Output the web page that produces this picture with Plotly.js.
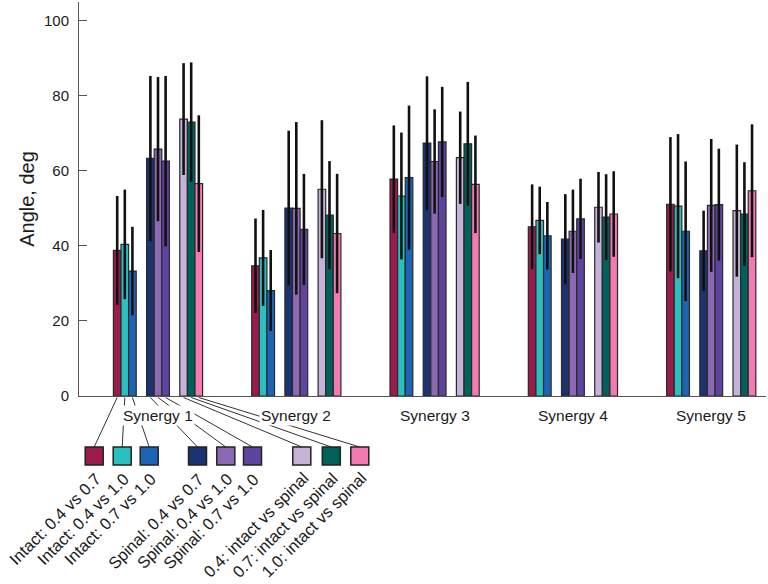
<!DOCTYPE html>
<html>
<head>
<meta charset="utf-8">
<script src="https://cdn.plot.ly/plotly-3.0.1.min.js"></script>
<style>html,body{margin:0;padding:0;background:#fff;}#chart{width:768px;height:584px;}</style>
</head>
<body>
<div id="chart"></div>
<script>
// ---- data ----
const synergies = [1, 2, 3, 4, 5];
const synergyLabels = ["Synergy 1", "Synergy 2", "Synergy 3", "Synergy 4", "Synergy 5"];
const comparisonNames = [
  "Intact: 0.4 vs 0.7", "Intact: 0.4 vs 1.0", "Intact: 0.7 vs 1.0",
  "Spinal: 0.4 vs 0.7", "Spinal: 0.4 vs 1.0", "Spinal: 0.7 vs 1.0",
  "0.4: intact vs spinal", "0.7: intact vs spinal", "1.0: intact vs spinal"
];
const intact04v07 = [38.8, 34.7, 57.8, 45.1, 51.1];
const intact04v10 = [40.4, 36.8, 53.3, 46.8, 50.6];
const intact07v10 = [33.3, 28.1, 58.2, 42.7, 43.9];
const spinal04v07 = [63.3, 50.1, 67.4, 41.8, 38.7];
const spinal04v10 = [65.8, 50.0, 62.5, 43.9, 50.8];
const spinal07v10 = [62.6, 44.4, 67.7, 47.2, 51.0];
const speed04IvS  = [73.8, 55.1, 63.5, 50.3, 49.4];
const speed07IvS  = [73.0, 48.2, 67.2, 47.7, 48.5];
const speed10IvS  = [56.6, 43.3, 56.4, 48.5, 54.7];

const intact04v07Err = [14.5, 12.6, 14.3, 11.3, 17.9];
const intact04v10Err = [14.6, 12.8, 16.9, 9.0, 19.2];
const intact07v10Err = [11.8, 10.8, 19.2, 9.0, 18.6];
const spinal04v07Err = [22.0, 20.6, 17.8, 12.0, 10.7];
const spinal04v10Err = [19.2, 23.0, 13.9, 11.1, 17.7];
const spinal07v10Err = [22.7, 14.8, 14.7, 10.7, 14.9];
const speed04IvSErr  = [14.9, 18.4, 12.3, 9.4, 17.6];
const speed07IvSErr  = [15.9, 14.4, 16.5, 11.4, 13.8];
const speed10IvSErr  = [18.2, 15.9, 13.0, 11.4, 17.7];

const yTickVals = [0, 20, 40, 60, 80, 100];

// ---- styling / layout ----
const series = [intact04v07, intact04v10, intact07v10, spinal04v07, spinal04v10, spinal07v10, speed04IvS, speed07IvS, speed10IvS];
const seriesErr = [intact04v07Err, intact04v10Err, intact07v10Err, spinal04v07Err, spinal04v10Err, spinal07v10Err, speed04IvSErr, speed07IvSErr, speed10IvSErr];
const colors = ["#9B1B4C", "#2BC0C0", "#1E64B4", "#1B3370", "#8E69B3", "#5E44A0", "#C4B2D8", "#00605C", "#F27AB0"];
const offsets = [-0.295, -0.24, -0.185, -0.055, 0, 0.055, 0.185, 0.24, 0.295];
const barWidth = 0.055;
const FONT = 'Liberation Sans, Arial, sans-serif';

const W = 768, H = 584;
const M = {l: 79, r: 2, t: 2, b: 188};
const plotW = W - M.l - M.r, plotH = H - M.t - M.b;
const xr = [0.4288, 5.396];

const traces = series.map((vals, i) => ({
  type: 'bar',
  name: comparisonNames[i],
  x: synergies.map(s => s + offsets[i]),
  y: vals,
  width: barWidth,
  marker: {color: colors[i], line: {color: '#2a2a2a', width: 1.2}},
  error_y: {type: 'data', array: seriesErr[i], visible: true, color: '#111', thickness: 2.6, width: 0},
  showlegend: false,
  hoverinfo: 'x+y'
}));

// helpers: pixel -> paper
const pxX = px => (px - M.l) / plotW;
const pxY = py => (M.t + plotH - py) / plotH;
const dataX2paper = x => (x - xr[0]) / (xr[1] - xr[0]);

const legendCx = [94.2, 122.2, 149.2, 197.5, 225.8, 252.5, 301.8, 331.3, 359.8];
const sqTop = 447, sqBot = 465, sqHalf = 9;

const shapes = [];
const annotations = [];
comparisonNames.forEach((n, i) => {
  shapes.push({
    type: 'line', xref: 'paper', yref: 'paper',
    x0: dataX2paper(synergies[0] + offsets[i]), y0: pxY(397.5),
    x1: pxX(legendCx[i]), y1: pxY(sqTop),
    line: {color: '#333', width: 1}
  });
  shapes.push({
    type: 'rect', xref: 'paper', yref: 'paper',
    x0: pxX(legendCx[i] - sqHalf), x1: pxX(legendCx[i] + sqHalf),
    y0: pxY(sqBot), y1: pxY(sqTop),
    fillcolor: colors[i], line: {color: '#222', width: 1.5}
  });
  annotations.push({
    xref: 'paper', yref: 'paper',
    x: pxX(legendCx[i] + 11), y: pxY(sqBot + 3),
    xanchor: 'right', yanchor: 'top',
    text: n, textangle: -45, showarrow: false, borderpad: 0,
    font: {family: FONT, size: 16.5, color: '#1a1a1a'}
  });
});
synergies.forEach((s, i) => {
  annotations.push({
    xref: 'x', yref: 'paper', x: s, y: pxY(415),
    xanchor: 'center', yanchor: 'middle',
    text: synergyLabels[i], showarrow: false, bgcolor: '#fff', borderpad: 1,
    font: {family: FONT, size: 15.5, color: '#1a1a1a'}
  });
});

const layout = {
  width: W, height: H,
  margin: M,
  paper_bgcolor: '#fff', plot_bgcolor: '#fff',
  barmode: 'overlay',
  font: {family: FONT, color: '#1a1a1a'},
  xaxis: {
    range: xr, showline: true, linecolor: '#555', linewidth: 1,
    showgrid: false, zeroline: false, showticklabels: false, ticks: '', fixedrange: true
  },
  yaxis: {
    range: [0, 105], showline: true, linecolor: '#555', linewidth: 1,
    showgrid: false, zeroline: false,
    tickvals: yTickVals, ticks: 'inside', ticklen: 8, tickcolor: '#555', tickwidth: 1,
    tickfont: {size: 15, color: '#1a1a1a'}, ticklabelstandoff: 6,
    title: {text: 'Angle, deg', font: {size: 20, color: '#1a1a1a'}, standoff: 3}
  },
  shapes: shapes,
  annotations: annotations
};

Plotly.newPlot('chart', traces, layout, {displayModeBar: false, staticPlot: true});
</script>
</body>
</html>
